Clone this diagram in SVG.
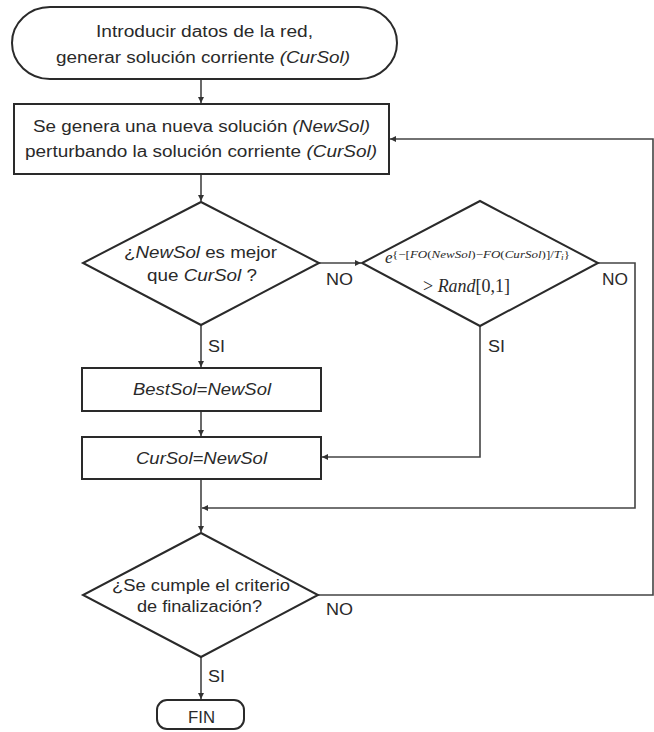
<svg xmlns="http://www.w3.org/2000/svg" width="654" height="732" viewBox="0 0 654 732">
<defs>
<style>
.shape{fill:#fff;stroke:#2a2a2a;stroke-width:2}
.conn{fill:none;stroke:#444;stroke-width:1.6}
.t{font-family:"Liberation Sans",Arial,sans-serif;font-size:16px;fill:#2a2a2a;text-anchor:middle}
.i{font-style:italic}
.lbl{font-family:"Liberation Sans",Arial,sans-serif;font-size:16px;fill:#2a2a2a}
.m{font-family:"Liberation Serif","Times New Roman",serif;fill:#2a2a2a}
</style>
<marker id="arr" viewBox="0 0 10 10" refX="10" refY="5" markerWidth="7" markerHeight="6" markerUnits="userSpaceOnUse" orient="auto">
<path d="M0,0 L10,5 L0,10 z" fill="#333"/>
</marker>
</defs>
<rect width="654" height="732" fill="#fff"/>

<g id="connectors">
<path class="conn" d="M201,79 V103" marker-end="url(#arr)"/>
<path class="conn" d="M201,174 V201" marker-end="url(#arr)"/>
<path class="conn" d="M201,325 V367" marker-end="url(#arr)"/>
<path class="conn" d="M201,411 V436" marker-end="url(#arr)"/>
<path class="conn" d="M201,479 V532" marker-end="url(#arr)"/>
<path class="conn" d="M319,263 H361" marker-end="url(#arr)"/>
<path class="conn" d="M480,326 V457 H322" marker-end="url(#arr)"/>
<path class="conn" d="M598,263 H635 V508 H202" marker-end="url(#arr)"/>
<path class="conn" d="M318,595 H653 V139 H390" marker-end="url(#arr)"/>
<path class="conn" d="M201,657 V699" marker-end="url(#arr)"/>
<text class="lbl" x="326" y="285" textLength="27" lengthAdjust="spacingAndGlyphs">NO</text>
<text class="lbl" x="602" y="285" textLength="26" lengthAdjust="spacingAndGlyphs">NO</text>
<text class="lbl" x="208" y="352" textLength="17" lengthAdjust="spacingAndGlyphs">SI</text>
<text class="lbl" x="488" y="352" textLength="17" lengthAdjust="spacingAndGlyphs">SI</text>
<text class="lbl" x="326" y="615" textLength="27" lengthAdjust="spacingAndGlyphs">NO</text>
<text class="lbl" x="208" y="682" textLength="17" lengthAdjust="spacingAndGlyphs">SI</text>
</g>

<g id="start">
<rect class="shape" x="12" y="7" width="385" height="72" rx="38" ry="36"/>
<text class="t" x="204.5" y="37" textLength="217" lengthAdjust="spacingAndGlyphs">Introducir datos de la red,</text>
<text class="t" x="203" y="63" textLength="294" lengthAdjust="spacingAndGlyphs">generar solución corriente <tspan class="i">(CurSol)</tspan></text>
</g>

<g id="newsol">
<rect class="shape" x="14" y="104" width="375" height="70"/>
<text class="t" x="201.5" y="132" textLength="337" lengthAdjust="spacingAndGlyphs">Se genera una nueva solución <tspan class="i">(NewSol)</tspan></text>
<text class="t" x="201" y="157" textLength="352" lengthAdjust="spacingAndGlyphs">perturbando la solución corriente <tspan class="i">(CurSol)</tspan></text>
</g>

<g id="better">
<polygon class="shape" points="201,202 319,263 201,325 83,263"/>
<text class="t" x="200.5" y="258" textLength="153" lengthAdjust="spacingAndGlyphs">¿<tspan class="i">NewSol</tspan> es mejor</text>
<text class="t" x="202" y="281" textLength="110" lengthAdjust="spacingAndGlyphs">que <tspan class="i">CurSol</tspan> ?</text>
</g>

<g id="accept">
<polygon class="shape" points="480,201 598,263 480,326 362,263"/>
<text class="m" x="385" y="263" font-size="17" font-style="italic">e</text>
<text class="m" x="392" y="258" font-size="11" textLength="178" lengthAdjust="spacingAndGlyphs">{−[<tspan font-style="italic">FO</tspan>(<tspan font-style="italic">NewSol</tspan>)−<tspan font-style="italic">FO</tspan>(<tspan font-style="italic">CurSol</tspan>)]/<tspan font-style="italic">T</tspan><tspan font-style="italic" font-size="8" dy="2">i</tspan><tspan dy="-2">}</tspan></text>
<text class="m" x="423" y="292" font-size="19" textLength="87" lengthAdjust="spacingAndGlyphs">&gt; <tspan font-style="italic">Rand</tspan>[0,1]</text>
</g>

<g id="bestsol">
<rect class="shape" x="82" y="368" width="239" height="43"/>
<text class="t i" x="202" y="395" textLength="138" lengthAdjust="spacingAndGlyphs">BestSol=NewSol</text>
</g>

<g id="cursol">
<rect class="shape" x="82" y="437" width="239" height="42"/>
<text class="t i" x="201.5" y="464" textLength="131" lengthAdjust="spacingAndGlyphs">CurSol=NewSol</text>
</g>

<g id="criterion">
<polygon class="shape" points="201,533 318,595 201,657 83,595"/>
<text class="t" x="201" y="591" textLength="178" lengthAdjust="spacingAndGlyphs">¿Se cumple el criterio</text>
<text class="t" x="199.5" y="612" textLength="125" lengthAdjust="spacingAndGlyphs">de finalización?</text>
</g>

<g id="fin">
<rect class="shape" x="157" y="700" width="87" height="29" rx="10" ry="10"/>
<text class="t" x="201.5" y="723" textLength="27" lengthAdjust="spacingAndGlyphs">FIN</text>
</g>
</svg>
